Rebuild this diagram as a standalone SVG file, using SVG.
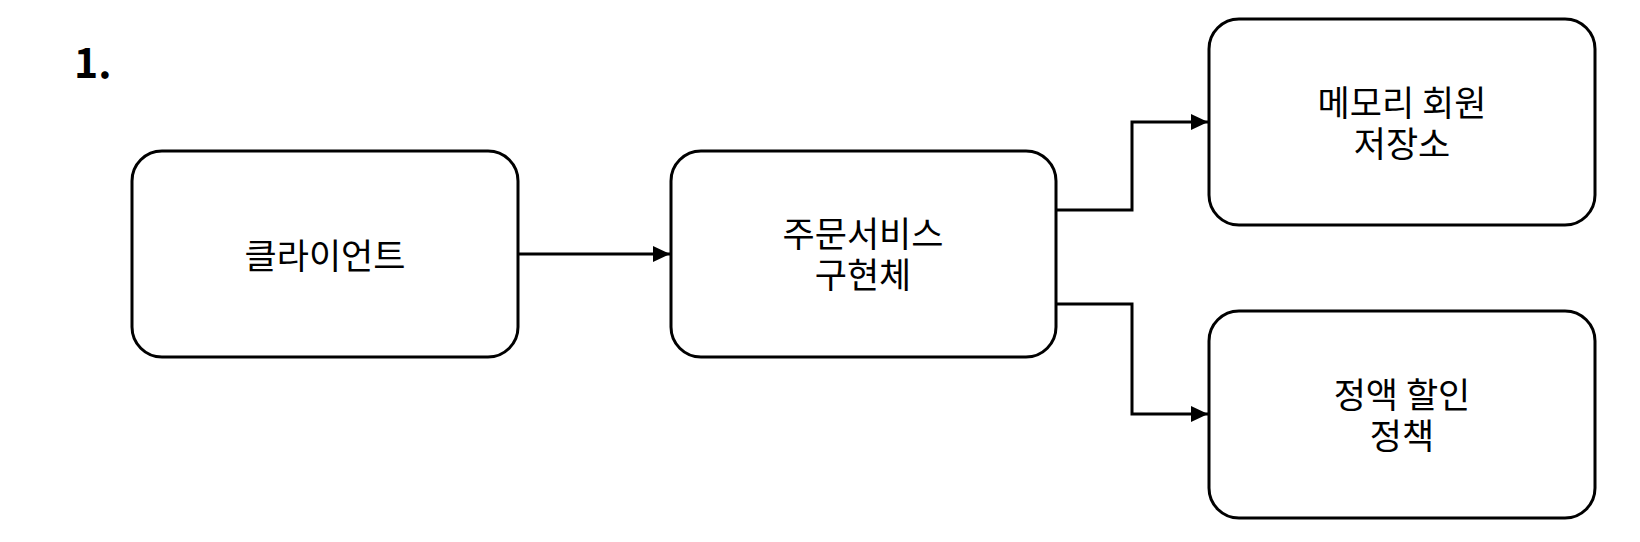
<svg xmlns="http://www.w3.org/2000/svg" width="1640" height="542" viewBox="0 0 1640 542">
<style>
.box{fill:#fff;stroke:#000;stroke-width:3}
.lbl{font-family:"Noto Sans CJK KR","Noto Sans",sans-serif;font-size:35px;fill:#000;text-anchor:middle;dominant-baseline:central}
.edge{fill:none;stroke:#000;stroke-width:3}
.num{font-family:"Noto Sans CJK KR","Noto Sans",sans-serif;font-size:41px;font-weight:bold;fill:#000}
</style>
<defs>
<marker id="ah" markerUnits="userSpaceOnUse" markerWidth="17" markerHeight="16" refX="17" refY="8" orient="auto">
<path d="M0,0 L17,8 L0,16 Z" fill="#000"/>
</marker>
</defs>
<rect width="1640" height="542" fill="#fff"/>
<text class="num" x="74" y="78">1.</text>
<g id="connectors">
<path class="edge" d="M518,254 L670,254" marker-end="url(#ah)"/>
<path class="edge" d="M1056,210 L1132,210 L1132,122 L1208,122" marker-end="url(#ah)"/>
<path class="edge" d="M1056,304 L1132,304 L1132,414 L1208,414" marker-end="url(#ah)"/>
</g>
<g id="client">
<rect class="box" x="132" y="151" width="386" height="206" rx="30"/>
<text class="lbl" x="325" y="253">클라이언트</text>
</g>
<g id="orderService">
<rect class="box" x="671" y="151" width="385" height="206" rx="30"/>
<text class="lbl"><tspan x="863" y="231">주문서비스</tspan><tspan x="863" y="272">구현체</tspan></text>
</g>
<g id="memberRepo">
<rect class="box" x="1209" y="19" width="386" height="206" rx="30"/>
<text class="lbl"><tspan x="1402" y="100">메모리 회원</tspan><tspan x="1402" y="141">저장소</tspan></text>
</g>
<g id="discountPolicy">
<rect class="box" x="1209" y="311" width="386" height="207" rx="30"/>
<text class="lbl"><tspan x="1402" y="392">정액 할인</tspan><tspan x="1402" y="433">정책</tspan></text>
</g>
</svg>
